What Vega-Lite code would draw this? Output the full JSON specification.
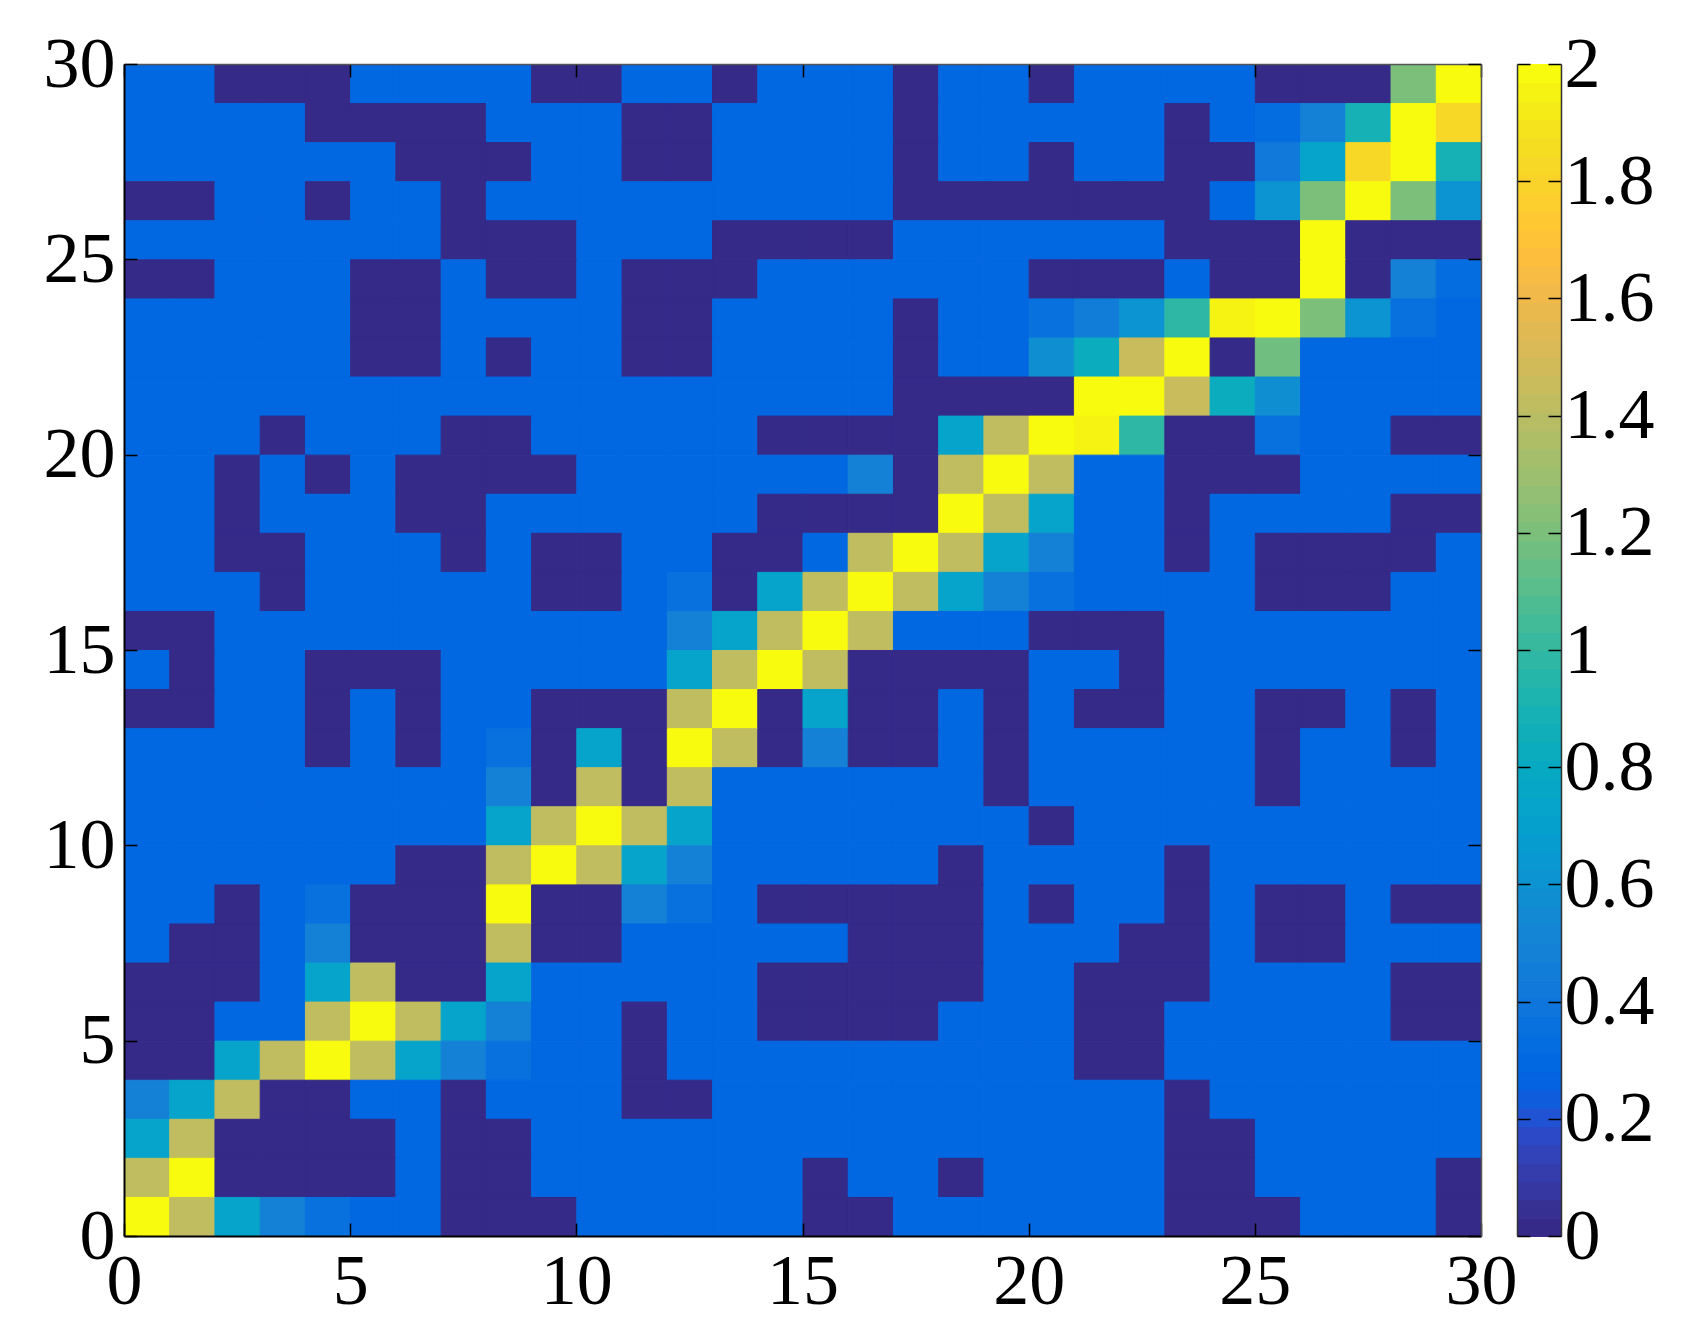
{"$schema":"https://vega.github.io/schema/vega-lite/v6.json","background":"white","padding":{"left":43,"top":28,"right":10,"bottom":10},"config":{"view":{"stroke":null},"font":"Liberation Serif"},"datasets":{"cells":[
{"x":0,"y":29,"v":0.29},{"x":1,"y":29,"v":0.29},{"x":2,"y":29,"v":0},{"x":3,"y":29,"v":0},{"x":4,"y":29,"v":0},{"x":5,"y":29,"v":0.29},{"x":6,"y":29,"v":0.29},{"x":7,"y":29,"v":0.29},{"x":8,"y":29,"v":0.29},{"x":9,"y":29,"v":0},{"x":10,"y":29,"v":0},{"x":11,"y":29,"v":0.29},{"x":12,"y":29,"v":0.29},{"x":13,"y":29,"v":0},{"x":14,"y":29,"v":0.29},{"x":15,"y":29,"v":0.29},{"x":16,"y":29,"v":0.29},{"x":17,"y":29,"v":0},{"x":18,"y":29,"v":0.29},{"x":19,"y":29,"v":0.29},{"x":20,"y":29,"v":0},{"x":21,"y":29,"v":0.29},{"x":22,"y":29,"v":0.29},{"x":23,"y":29,"v":0.29},{"x":24,"y":29,"v":0.29},{"x":25,"y":29,"v":0},{"x":26,"y":29,"v":0},{"x":27,"y":29,"v":0},{"x":28,"y":29,"v":1.2},{"x":29,"y":29,"v":2},
{"x":0,"y":28,"v":0.29},{"x":1,"y":28,"v":0.29},{"x":2,"y":28,"v":0.29},{"x":3,"y":28,"v":0.29},{"x":4,"y":28,"v":0},{"x":5,"y":28,"v":0},{"x":6,"y":28,"v":0},{"x":7,"y":28,"v":0},{"x":8,"y":28,"v":0.29},{"x":9,"y":28,"v":0.29},{"x":10,"y":28,"v":0.29},{"x":11,"y":28,"v":0},{"x":12,"y":28,"v":0},{"x":13,"y":28,"v":0.29},{"x":14,"y":28,"v":0.29},{"x":15,"y":28,"v":0.29},{"x":16,"y":28,"v":0.29},{"x":17,"y":28,"v":0},{"x":18,"y":28,"v":0.29},{"x":19,"y":28,"v":0.29},{"x":20,"y":28,"v":0.29},{"x":21,"y":28,"v":0.29},{"x":22,"y":28,"v":0.29},{"x":23,"y":28,"v":0},{"x":24,"y":28,"v":0.29},{"x":25,"y":28,"v":0.34},{"x":26,"y":28,"v":0.47},{"x":27,"y":28,"v":0.89},{"x":28,"y":28,"v":2},{"x":29,"y":28,"v":1.82},
{"x":0,"y":27,"v":0.29},{"x":1,"y":27,"v":0.29},{"x":2,"y":27,"v":0.29},{"x":3,"y":27,"v":0.29},{"x":4,"y":27,"v":0.29},{"x":5,"y":27,"v":0.29},{"x":6,"y":27,"v":0},{"x":7,"y":27,"v":0},{"x":8,"y":27,"v":0},{"x":9,"y":27,"v":0.29},{"x":10,"y":27,"v":0.29},{"x":11,"y":27,"v":0},{"x":12,"y":27,"v":0},{"x":13,"y":27,"v":0.29},{"x":14,"y":27,"v":0.29},{"x":15,"y":27,"v":0.29},{"x":16,"y":27,"v":0.29},{"x":17,"y":27,"v":0},{"x":18,"y":27,"v":0.29},{"x":19,"y":27,"v":0.29},{"x":20,"y":27,"v":0},{"x":21,"y":27,"v":0.29},{"x":22,"y":27,"v":0.29},{"x":23,"y":27,"v":0},{"x":24,"y":27,"v":0},{"x":25,"y":27,"v":0.43},{"x":26,"y":27,"v":0.72},{"x":27,"y":27,"v":1.82},{"x":28,"y":27,"v":2},{"x":29,"y":27,"v":0.89},
{"x":0,"y":26,"v":0},{"x":1,"y":26,"v":0},{"x":2,"y":26,"v":0.29},{"x":3,"y":26,"v":0.29},{"x":4,"y":26,"v":0},{"x":5,"y":26,"v":0.29},{"x":6,"y":26,"v":0.29},{"x":7,"y":26,"v":0},{"x":8,"y":26,"v":0.29},{"x":9,"y":26,"v":0.29},{"x":10,"y":26,"v":0.29},{"x":11,"y":26,"v":0.29},{"x":12,"y":26,"v":0.29},{"x":13,"y":26,"v":0.29},{"x":14,"y":26,"v":0.29},{"x":15,"y":26,"v":0.29},{"x":16,"y":26,"v":0.29},{"x":17,"y":26,"v":0},{"x":18,"y":26,"v":0},{"x":19,"y":26,"v":0},{"x":20,"y":26,"v":0},{"x":21,"y":26,"v":0},{"x":22,"y":26,"v":0},{"x":23,"y":26,"v":0},{"x":24,"y":26,"v":0.29},{"x":25,"y":26,"v":0.6},{"x":26,"y":26,"v":1.2},{"x":27,"y":26,"v":2},{"x":28,"y":26,"v":1.2},{"x":29,"y":26,"v":0.6},
{"x":0,"y":25,"v":0.29},{"x":1,"y":25,"v":0.29},{"x":2,"y":25,"v":0.29},{"x":3,"y":25,"v":0.29},{"x":4,"y":25,"v":0.29},{"x":5,"y":25,"v":0.29},{"x":6,"y":25,"v":0.29},{"x":7,"y":25,"v":0},{"x":8,"y":25,"v":0},{"x":9,"y":25,"v":0},{"x":10,"y":25,"v":0.29},{"x":11,"y":25,"v":0.29},{"x":12,"y":25,"v":0.29},{"x":13,"y":25,"v":0},{"x":14,"y":25,"v":0},{"x":15,"y":25,"v":0},{"x":16,"y":25,"v":0},{"x":17,"y":25,"v":0.29},{"x":18,"y":25,"v":0.29},{"x":19,"y":25,"v":0.29},{"x":20,"y":25,"v":0.29},{"x":21,"y":25,"v":0.29},{"x":22,"y":25,"v":0.29},{"x":23,"y":25,"v":0},{"x":24,"y":25,"v":0},{"x":25,"y":25,"v":0},{"x":26,"y":25,"v":2},{"x":27,"y":25,"v":0},{"x":28,"y":25,"v":0},{"x":29,"y":25,"v":0},
{"x":0,"y":24,"v":0},{"x":1,"y":24,"v":0},{"x":2,"y":24,"v":0.29},{"x":3,"y":24,"v":0.29},{"x":4,"y":24,"v":0.29},{"x":5,"y":24,"v":0},{"x":6,"y":24,"v":0},{"x":7,"y":24,"v":0.29},{"x":8,"y":24,"v":0},{"x":9,"y":24,"v":0},{"x":10,"y":24,"v":0.29},{"x":11,"y":24,"v":0},{"x":12,"y":24,"v":0},{"x":13,"y":24,"v":0},{"x":14,"y":24,"v":0.29},{"x":15,"y":24,"v":0.29},{"x":16,"y":24,"v":0.29},{"x":17,"y":24,"v":0.29},{"x":18,"y":24,"v":0.29},{"x":19,"y":24,"v":0.29},{"x":20,"y":24,"v":0},{"x":21,"y":24,"v":0},{"x":22,"y":24,"v":0},{"x":23,"y":24,"v":0.29},{"x":24,"y":24,"v":0},{"x":25,"y":24,"v":0},{"x":26,"y":24,"v":2},{"x":27,"y":24,"v":0},{"x":28,"y":24,"v":0.47},{"x":29,"y":24,"v":0.34},
{"x":0,"y":23,"v":0.29},{"x":1,"y":23,"v":0.29},{"x":2,"y":23,"v":0.29},{"x":3,"y":23,"v":0.29},{"x":4,"y":23,"v":0.29},{"x":5,"y":23,"v":0},{"x":6,"y":23,"v":0},{"x":7,"y":23,"v":0.29},{"x":8,"y":23,"v":0.29},{"x":9,"y":23,"v":0.29},{"x":10,"y":23,"v":0.29},{"x":11,"y":23,"v":0},{"x":12,"y":23,"v":0},{"x":13,"y":23,"v":0.29},{"x":14,"y":23,"v":0.29},{"x":15,"y":23,"v":0.29},{"x":16,"y":23,"v":0.29},{"x":17,"y":23,"v":0},{"x":18,"y":23,"v":0.29},{"x":19,"y":23,"v":0.29},{"x":20,"y":23,"v":0.36},{"x":21,"y":23,"v":0.44},{"x":22,"y":23,"v":0.62},{"x":23,"y":23,"v":0.98},{"x":24,"y":23,"v":1.95},{"x":25,"y":23,"v":2},{"x":26,"y":23,"v":1.2},{"x":27,"y":23,"v":0.62},{"x":28,"y":23,"v":0.36},{"x":29,"y":23,"v":0.29},
{"x":0,"y":22,"v":0.29},{"x":1,"y":22,"v":0.29},{"x":2,"y":22,"v":0.29},{"x":3,"y":22,"v":0.29},{"x":4,"y":22,"v":0.29},{"x":5,"y":22,"v":0},{"x":6,"y":22,"v":0},{"x":7,"y":22,"v":0.29},{"x":8,"y":22,"v":0},{"x":9,"y":22,"v":0.29},{"x":10,"y":22,"v":0.29},{"x":11,"y":22,"v":0},{"x":12,"y":22,"v":0},{"x":13,"y":22,"v":0.29},{"x":14,"y":22,"v":0.29},{"x":15,"y":22,"v":0.29},{"x":16,"y":22,"v":0.29},{"x":17,"y":22,"v":0},{"x":18,"y":22,"v":0.29},{"x":19,"y":22,"v":0.29},{"x":20,"y":22,"v":0.58},{"x":21,"y":22,"v":0.82},{"x":22,"y":22,"v":1.45},{"x":23,"y":22,"v":2},{"x":24,"y":22,"v":0},{"x":25,"y":22,"v":1.17},{"x":26,"y":22,"v":0.29},{"x":27,"y":22,"v":0.29},{"x":28,"y":22,"v":0.29},{"x":29,"y":22,"v":0.29},
{"x":0,"y":21,"v":0.29},{"x":1,"y":21,"v":0.29},{"x":2,"y":21,"v":0.29},{"x":3,"y":21,"v":0.29},{"x":4,"y":21,"v":0.29},{"x":5,"y":21,"v":0.29},{"x":6,"y":21,"v":0.29},{"x":7,"y":21,"v":0.29},{"x":8,"y":21,"v":0.29},{"x":9,"y":21,"v":0.29},{"x":10,"y":21,"v":0.29},{"x":11,"y":21,"v":0.29},{"x":12,"y":21,"v":0.29},{"x":13,"y":21,"v":0.29},{"x":14,"y":21,"v":0.29},{"x":15,"y":21,"v":0.29},{"x":16,"y":21,"v":0.29},{"x":17,"y":21,"v":0},{"x":18,"y":21,"v":0},{"x":19,"y":21,"v":0},{"x":20,"y":21,"v":0},{"x":21,"y":21,"v":2},{"x":22,"y":21,"v":2},{"x":23,"y":21,"v":1.45},{"x":24,"y":21,"v":0.82},{"x":25,"y":21,"v":0.58},{"x":26,"y":21,"v":0.29},{"x":27,"y":21,"v":0.29},{"x":28,"y":21,"v":0.29},{"x":29,"y":21,"v":0.29},
{"x":0,"y":20,"v":0.29},{"x":1,"y":20,"v":0.29},{"x":2,"y":20,"v":0.29},{"x":3,"y":20,"v":0},{"x":4,"y":20,"v":0.29},{"x":5,"y":20,"v":0.29},{"x":6,"y":20,"v":0.29},{"x":7,"y":20,"v":0},{"x":8,"y":20,"v":0},{"x":9,"y":20,"v":0.29},{"x":10,"y":20,"v":0.29},{"x":11,"y":20,"v":0.29},{"x":12,"y":20,"v":0.29},{"x":13,"y":20,"v":0.29},{"x":14,"y":20,"v":0},{"x":15,"y":20,"v":0},{"x":16,"y":20,"v":0},{"x":17,"y":20,"v":0},{"x":18,"y":20,"v":0.72},{"x":19,"y":20,"v":1.42},{"x":20,"y":20,"v":2},{"x":21,"y":20,"v":1.95},{"x":22,"y":20,"v":0.98},{"x":23,"y":20,"v":0},{"x":24,"y":20,"v":0},{"x":25,"y":20,"v":0.36},{"x":26,"y":20,"v":0.29},{"x":27,"y":20,"v":0.29},{"x":28,"y":20,"v":0},{"x":29,"y":20,"v":0},
{"x":0,"y":19,"v":0.29},{"x":1,"y":19,"v":0.29},{"x":2,"y":19,"v":0},{"x":3,"y":19,"v":0.29},{"x":4,"y":19,"v":0},{"x":5,"y":19,"v":0.29},{"x":6,"y":19,"v":0},{"x":7,"y":19,"v":0},{"x":8,"y":19,"v":0},{"x":9,"y":19,"v":0},{"x":10,"y":19,"v":0.29},{"x":11,"y":19,"v":0.29},{"x":12,"y":19,"v":0.29},{"x":13,"y":19,"v":0.29},{"x":14,"y":19,"v":0.29},{"x":15,"y":19,"v":0.29},{"x":16,"y":19,"v":0.47},{"x":17,"y":19,"v":0},{"x":18,"y":19,"v":1.42},{"x":19,"y":19,"v":2},{"x":20,"y":19,"v":1.42},{"x":21,"y":19,"v":0.29},{"x":22,"y":19,"v":0.29},{"x":23,"y":19,"v":0},{"x":24,"y":19,"v":0},{"x":25,"y":19,"v":0},{"x":26,"y":19,"v":0.29},{"x":27,"y":19,"v":0.29},{"x":28,"y":19,"v":0.29},{"x":29,"y":19,"v":0.29},
{"x":0,"y":18,"v":0.29},{"x":1,"y":18,"v":0.29},{"x":2,"y":18,"v":0},{"x":3,"y":18,"v":0.29},{"x":4,"y":18,"v":0.29},{"x":5,"y":18,"v":0.29},{"x":6,"y":18,"v":0},{"x":7,"y":18,"v":0},{"x":8,"y":18,"v":0.29},{"x":9,"y":18,"v":0.29},{"x":10,"y":18,"v":0.29},{"x":11,"y":18,"v":0.29},{"x":12,"y":18,"v":0.29},{"x":13,"y":18,"v":0.29},{"x":14,"y":18,"v":0},{"x":15,"y":18,"v":0},{"x":16,"y":18,"v":0},{"x":17,"y":18,"v":0},{"x":18,"y":18,"v":2},{"x":19,"y":18,"v":1.42},{"x":20,"y":18,"v":0.72},{"x":21,"y":18,"v":0.29},{"x":22,"y":18,"v":0.29},{"x":23,"y":18,"v":0},{"x":24,"y":18,"v":0.29},{"x":25,"y":18,"v":0.29},{"x":26,"y":18,"v":0.29},{"x":27,"y":18,"v":0.29},{"x":28,"y":18,"v":0},{"x":29,"y":18,"v":0},
{"x":0,"y":17,"v":0.29},{"x":1,"y":17,"v":0.29},{"x":2,"y":17,"v":0},{"x":3,"y":17,"v":0},{"x":4,"y":17,"v":0.29},{"x":5,"y":17,"v":0.29},{"x":6,"y":17,"v":0.29},{"x":7,"y":17,"v":0},{"x":8,"y":17,"v":0.29},{"x":9,"y":17,"v":0},{"x":10,"y":17,"v":0},{"x":11,"y":17,"v":0.29},{"x":12,"y":17,"v":0.29},{"x":13,"y":17,"v":0},{"x":14,"y":17,"v":0},{"x":15,"y":17,"v":0.29},{"x":16,"y":17,"v":1.42},{"x":17,"y":17,"v":2},{"x":18,"y":17,"v":1.42},{"x":19,"y":17,"v":0.72},{"x":20,"y":17,"v":0.47},{"x":21,"y":17,"v":0.29},{"x":22,"y":17,"v":0.29},{"x":23,"y":17,"v":0},{"x":24,"y":17,"v":0.29},{"x":25,"y":17,"v":0},{"x":26,"y":17,"v":0},{"x":27,"y":17,"v":0},{"x":28,"y":17,"v":0},{"x":29,"y":17,"v":0.29},
{"x":0,"y":16,"v":0.29},{"x":1,"y":16,"v":0.29},{"x":2,"y":16,"v":0.29},{"x":3,"y":16,"v":0},{"x":4,"y":16,"v":0.29},{"x":5,"y":16,"v":0.29},{"x":6,"y":16,"v":0.29},{"x":7,"y":16,"v":0.29},{"x":8,"y":16,"v":0.29},{"x":9,"y":16,"v":0},{"x":10,"y":16,"v":0},{"x":11,"y":16,"v":0.29},{"x":12,"y":16,"v":0.36},{"x":13,"y":16,"v":0},{"x":14,"y":16,"v":0.72},{"x":15,"y":16,"v":1.42},{"x":16,"y":16,"v":2},{"x":17,"y":16,"v":1.42},{"x":18,"y":16,"v":0.72},{"x":19,"y":16,"v":0.47},{"x":20,"y":16,"v":0.36},{"x":21,"y":16,"v":0.29},{"x":22,"y":16,"v":0.29},{"x":23,"y":16,"v":0.29},{"x":24,"y":16,"v":0.29},{"x":25,"y":16,"v":0},{"x":26,"y":16,"v":0},{"x":27,"y":16,"v":0},{"x":28,"y":16,"v":0.29},{"x":29,"y":16,"v":0.29},
{"x":0,"y":15,"v":0},{"x":1,"y":15,"v":0},{"x":2,"y":15,"v":0.29},{"x":3,"y":15,"v":0.29},{"x":4,"y":15,"v":0.29},{"x":5,"y":15,"v":0.29},{"x":6,"y":15,"v":0.29},{"x":7,"y":15,"v":0.29},{"x":8,"y":15,"v":0.29},{"x":9,"y":15,"v":0.29},{"x":10,"y":15,"v":0.29},{"x":11,"y":15,"v":0.29},{"x":12,"y":15,"v":0.47},{"x":13,"y":15,"v":0.72},{"x":14,"y":15,"v":1.42},{"x":15,"y":15,"v":2},{"x":16,"y":15,"v":1.42},{"x":17,"y":15,"v":0.29},{"x":18,"y":15,"v":0.29},{"x":19,"y":15,"v":0.29},{"x":20,"y":15,"v":0},{"x":21,"y":15,"v":0},{"x":22,"y":15,"v":0},{"x":23,"y":15,"v":0.29},{"x":24,"y":15,"v":0.29},{"x":25,"y":15,"v":0.29},{"x":26,"y":15,"v":0.29},{"x":27,"y":15,"v":0.29},{"x":28,"y":15,"v":0.29},{"x":29,"y":15,"v":0.29},
{"x":0,"y":14,"v":0.29},{"x":1,"y":14,"v":0},{"x":2,"y":14,"v":0.29},{"x":3,"y":14,"v":0.29},{"x":4,"y":14,"v":0},{"x":5,"y":14,"v":0},{"x":6,"y":14,"v":0},{"x":7,"y":14,"v":0.29},{"x":8,"y":14,"v":0.29},{"x":9,"y":14,"v":0.29},{"x":10,"y":14,"v":0.29},{"x":11,"y":14,"v":0.29},{"x":12,"y":14,"v":0.72},{"x":13,"y":14,"v":1.42},{"x":14,"y":14,"v":2},{"x":15,"y":14,"v":1.42},{"x":16,"y":14,"v":0},{"x":17,"y":14,"v":0},{"x":18,"y":14,"v":0},{"x":19,"y":14,"v":0},{"x":20,"y":14,"v":0.29},{"x":21,"y":14,"v":0.29},{"x":22,"y":14,"v":0},{"x":23,"y":14,"v":0.29},{"x":24,"y":14,"v":0.29},{"x":25,"y":14,"v":0.29},{"x":26,"y":14,"v":0.29},{"x":27,"y":14,"v":0.29},{"x":28,"y":14,"v":0.29},{"x":29,"y":14,"v":0.29},
{"x":0,"y":13,"v":0},{"x":1,"y":13,"v":0},{"x":2,"y":13,"v":0.29},{"x":3,"y":13,"v":0.29},{"x":4,"y":13,"v":0},{"x":5,"y":13,"v":0.29},{"x":6,"y":13,"v":0},{"x":7,"y":13,"v":0.29},{"x":8,"y":13,"v":0.29},{"x":9,"y":13,"v":0},{"x":10,"y":13,"v":0},{"x":11,"y":13,"v":0},{"x":12,"y":13,"v":1.42},{"x":13,"y":13,"v":2},{"x":14,"y":13,"v":0},{"x":15,"y":13,"v":0.72},{"x":16,"y":13,"v":0},{"x":17,"y":13,"v":0},{"x":18,"y":13,"v":0.29},{"x":19,"y":13,"v":0},{"x":20,"y":13,"v":0.29},{"x":21,"y":13,"v":0},{"x":22,"y":13,"v":0},{"x":23,"y":13,"v":0.29},{"x":24,"y":13,"v":0.29},{"x":25,"y":13,"v":0},{"x":26,"y":13,"v":0},{"x":27,"y":13,"v":0.29},{"x":28,"y":13,"v":0},{"x":29,"y":13,"v":0.29},
{"x":0,"y":12,"v":0.29},{"x":1,"y":12,"v":0.29},{"x":2,"y":12,"v":0.29},{"x":3,"y":12,"v":0.29},{"x":4,"y":12,"v":0},{"x":5,"y":12,"v":0.29},{"x":6,"y":12,"v":0},{"x":7,"y":12,"v":0.29},{"x":8,"y":12,"v":0.36},{"x":9,"y":12,"v":0},{"x":10,"y":12,"v":0.72},{"x":11,"y":12,"v":0},{"x":12,"y":12,"v":2},{"x":13,"y":12,"v":1.42},{"x":14,"y":12,"v":0},{"x":15,"y":12,"v":0.47},{"x":16,"y":12,"v":0},{"x":17,"y":12,"v":0},{"x":18,"y":12,"v":0.29},{"x":19,"y":12,"v":0},{"x":20,"y":12,"v":0.29},{"x":21,"y":12,"v":0.29},{"x":22,"y":12,"v":0.29},{"x":23,"y":12,"v":0.29},{"x":24,"y":12,"v":0.29},{"x":25,"y":12,"v":0},{"x":26,"y":12,"v":0.29},{"x":27,"y":12,"v":0.29},{"x":28,"y":12,"v":0},{"x":29,"y":12,"v":0.29},
{"x":0,"y":11,"v":0.29},{"x":1,"y":11,"v":0.29},{"x":2,"y":11,"v":0.29},{"x":3,"y":11,"v":0.29},{"x":4,"y":11,"v":0.29},{"x":5,"y":11,"v":0.29},{"x":6,"y":11,"v":0.29},{"x":7,"y":11,"v":0.29},{"x":8,"y":11,"v":0.47},{"x":9,"y":11,"v":0},{"x":10,"y":11,"v":1.42},{"x":11,"y":11,"v":0},{"x":12,"y":11,"v":1.42},{"x":13,"y":11,"v":0.29},{"x":14,"y":11,"v":0.29},{"x":15,"y":11,"v":0.29},{"x":16,"y":11,"v":0.29},{"x":17,"y":11,"v":0.29},{"x":18,"y":11,"v":0.29},{"x":19,"y":11,"v":0},{"x":20,"y":11,"v":0.29},{"x":21,"y":11,"v":0.29},{"x":22,"y":11,"v":0.29},{"x":23,"y":11,"v":0.29},{"x":24,"y":11,"v":0.29},{"x":25,"y":11,"v":0},{"x":26,"y":11,"v":0.29},{"x":27,"y":11,"v":0.29},{"x":28,"y":11,"v":0.29},{"x":29,"y":11,"v":0.29},
{"x":0,"y":10,"v":0.29},{"x":1,"y":10,"v":0.29},{"x":2,"y":10,"v":0.29},{"x":3,"y":10,"v":0.29},{"x":4,"y":10,"v":0.29},{"x":5,"y":10,"v":0.29},{"x":6,"y":10,"v":0.29},{"x":7,"y":10,"v":0.29},{"x":8,"y":10,"v":0.72},{"x":9,"y":10,"v":1.42},{"x":10,"y":10,"v":2},{"x":11,"y":10,"v":1.42},{"x":12,"y":10,"v":0.72},{"x":13,"y":10,"v":0.29},{"x":14,"y":10,"v":0.29},{"x":15,"y":10,"v":0.29},{"x":16,"y":10,"v":0.29},{"x":17,"y":10,"v":0.29},{"x":18,"y":10,"v":0.29},{"x":19,"y":10,"v":0.29},{"x":20,"y":10,"v":0},{"x":21,"y":10,"v":0.29},{"x":22,"y":10,"v":0.29},{"x":23,"y":10,"v":0.29},{"x":24,"y":10,"v":0.29},{"x":25,"y":10,"v":0.29},{"x":26,"y":10,"v":0.29},{"x":27,"y":10,"v":0.29},{"x":28,"y":10,"v":0.29},{"x":29,"y":10,"v":0.29},
{"x":0,"y":9,"v":0.29},{"x":1,"y":9,"v":0.29},{"x":2,"y":9,"v":0.29},{"x":3,"y":9,"v":0.29},{"x":4,"y":9,"v":0.29},{"x":5,"y":9,"v":0.29},{"x":6,"y":9,"v":0},{"x":7,"y":9,"v":0},{"x":8,"y":9,"v":1.42},{"x":9,"y":9,"v":2},{"x":10,"y":9,"v":1.42},{"x":11,"y":9,"v":0.72},{"x":12,"y":9,"v":0.47},{"x":13,"y":9,"v":0.29},{"x":14,"y":9,"v":0.29},{"x":15,"y":9,"v":0.29},{"x":16,"y":9,"v":0.29},{"x":17,"y":9,"v":0.29},{"x":18,"y":9,"v":0},{"x":19,"y":9,"v":0.29},{"x":20,"y":9,"v":0.29},{"x":21,"y":9,"v":0.29},{"x":22,"y":9,"v":0.29},{"x":23,"y":9,"v":0},{"x":24,"y":9,"v":0.29},{"x":25,"y":9,"v":0.29},{"x":26,"y":9,"v":0.29},{"x":27,"y":9,"v":0.29},{"x":28,"y":9,"v":0.29},{"x":29,"y":9,"v":0.29},
{"x":0,"y":8,"v":0.29},{"x":1,"y":8,"v":0.29},{"x":2,"y":8,"v":0},{"x":3,"y":8,"v":0.29},{"x":4,"y":8,"v":0.36},{"x":5,"y":8,"v":0},{"x":6,"y":8,"v":0},{"x":7,"y":8,"v":0},{"x":8,"y":8,"v":2},{"x":9,"y":8,"v":0},{"x":10,"y":8,"v":0},{"x":11,"y":8,"v":0.47},{"x":12,"y":8,"v":0.36},{"x":13,"y":8,"v":0.29},{"x":14,"y":8,"v":0},{"x":15,"y":8,"v":0},{"x":16,"y":8,"v":0},{"x":17,"y":8,"v":0},{"x":18,"y":8,"v":0},{"x":19,"y":8,"v":0.29},{"x":20,"y":8,"v":0},{"x":21,"y":8,"v":0.29},{"x":22,"y":8,"v":0.29},{"x":23,"y":8,"v":0},{"x":24,"y":8,"v":0.29},{"x":25,"y":8,"v":0},{"x":26,"y":8,"v":0},{"x":27,"y":8,"v":0.29},{"x":28,"y":8,"v":0},{"x":29,"y":8,"v":0},
{"x":0,"y":7,"v":0.29},{"x":1,"y":7,"v":0},{"x":2,"y":7,"v":0},{"x":3,"y":7,"v":0.29},{"x":4,"y":7,"v":0.47},{"x":5,"y":7,"v":0},{"x":6,"y":7,"v":0},{"x":7,"y":7,"v":0},{"x":8,"y":7,"v":1.42},{"x":9,"y":7,"v":0},{"x":10,"y":7,"v":0},{"x":11,"y":7,"v":0.29},{"x":12,"y":7,"v":0.29},{"x":13,"y":7,"v":0.29},{"x":14,"y":7,"v":0.29},{"x":15,"y":7,"v":0.29},{"x":16,"y":7,"v":0},{"x":17,"y":7,"v":0},{"x":18,"y":7,"v":0},{"x":19,"y":7,"v":0.29},{"x":20,"y":7,"v":0.29},{"x":21,"y":7,"v":0.29},{"x":22,"y":7,"v":0},{"x":23,"y":7,"v":0},{"x":24,"y":7,"v":0.29},{"x":25,"y":7,"v":0},{"x":26,"y":7,"v":0},{"x":27,"y":7,"v":0.29},{"x":28,"y":7,"v":0.29},{"x":29,"y":7,"v":0.29},
{"x":0,"y":6,"v":0},{"x":1,"y":6,"v":0},{"x":2,"y":6,"v":0},{"x":3,"y":6,"v":0.29},{"x":4,"y":6,"v":0.72},{"x":5,"y":6,"v":1.42},{"x":6,"y":6,"v":0},{"x":7,"y":6,"v":0},{"x":8,"y":6,"v":0.72},{"x":9,"y":6,"v":0.29},{"x":10,"y":6,"v":0.29},{"x":11,"y":6,"v":0.29},{"x":12,"y":6,"v":0.29},{"x":13,"y":6,"v":0.29},{"x":14,"y":6,"v":0},{"x":15,"y":6,"v":0},{"x":16,"y":6,"v":0},{"x":17,"y":6,"v":0},{"x":18,"y":6,"v":0},{"x":19,"y":6,"v":0.29},{"x":20,"y":6,"v":0.29},{"x":21,"y":6,"v":0},{"x":22,"y":6,"v":0},{"x":23,"y":6,"v":0},{"x":24,"y":6,"v":0.29},{"x":25,"y":6,"v":0.29},{"x":26,"y":6,"v":0.29},{"x":27,"y":6,"v":0.29},{"x":28,"y":6,"v":0},{"x":29,"y":6,"v":0},
{"x":0,"y":5,"v":0},{"x":1,"y":5,"v":0},{"x":2,"y":5,"v":0.29},{"x":3,"y":5,"v":0.29},{"x":4,"y":5,"v":1.42},{"x":5,"y":5,"v":2},{"x":6,"y":5,"v":1.42},{"x":7,"y":5,"v":0.72},{"x":8,"y":5,"v":0.47},{"x":9,"y":5,"v":0.29},{"x":10,"y":5,"v":0.29},{"x":11,"y":5,"v":0},{"x":12,"y":5,"v":0.29},{"x":13,"y":5,"v":0.29},{"x":14,"y":5,"v":0},{"x":15,"y":5,"v":0},{"x":16,"y":5,"v":0},{"x":17,"y":5,"v":0},{"x":18,"y":5,"v":0.29},{"x":19,"y":5,"v":0.29},{"x":20,"y":5,"v":0.29},{"x":21,"y":5,"v":0},{"x":22,"y":5,"v":0},{"x":23,"y":5,"v":0.29},{"x":24,"y":5,"v":0.29},{"x":25,"y":5,"v":0.29},{"x":26,"y":5,"v":0.29},{"x":27,"y":5,"v":0.29},{"x":28,"y":5,"v":0},{"x":29,"y":5,"v":0},
{"x":0,"y":4,"v":0},{"x":1,"y":4,"v":0},{"x":2,"y":4,"v":0.72},{"x":3,"y":4,"v":1.42},{"x":4,"y":4,"v":2},{"x":5,"y":4,"v":1.42},{"x":6,"y":4,"v":0.72},{"x":7,"y":4,"v":0.47},{"x":8,"y":4,"v":0.36},{"x":9,"y":4,"v":0.29},{"x":10,"y":4,"v":0.29},{"x":11,"y":4,"v":0},{"x":12,"y":4,"v":0.29},{"x":13,"y":4,"v":0.29},{"x":14,"y":4,"v":0.29},{"x":15,"y":4,"v":0.29},{"x":16,"y":4,"v":0.29},{"x":17,"y":4,"v":0.29},{"x":18,"y":4,"v":0.29},{"x":19,"y":4,"v":0.29},{"x":20,"y":4,"v":0.29},{"x":21,"y":4,"v":0},{"x":22,"y":4,"v":0},{"x":23,"y":4,"v":0.29},{"x":24,"y":4,"v":0.29},{"x":25,"y":4,"v":0.29},{"x":26,"y":4,"v":0.29},{"x":27,"y":4,"v":0.29},{"x":28,"y":4,"v":0.29},{"x":29,"y":4,"v":0.29},
{"x":0,"y":3,"v":0.47},{"x":1,"y":3,"v":0.72},{"x":2,"y":3,"v":1.42},{"x":3,"y":3,"v":0},{"x":4,"y":3,"v":0},{"x":5,"y":3,"v":0.29},{"x":6,"y":3,"v":0.29},{"x":7,"y":3,"v":0},{"x":8,"y":3,"v":0.29},{"x":9,"y":3,"v":0.29},{"x":10,"y":3,"v":0.29},{"x":11,"y":3,"v":0},{"x":12,"y":3,"v":0},{"x":13,"y":3,"v":0.29},{"x":14,"y":3,"v":0.29},{"x":15,"y":3,"v":0.29},{"x":16,"y":3,"v":0.29},{"x":17,"y":3,"v":0.29},{"x":18,"y":3,"v":0.29},{"x":19,"y":3,"v":0.29},{"x":20,"y":3,"v":0.29},{"x":21,"y":3,"v":0.29},{"x":22,"y":3,"v":0.29},{"x":23,"y":3,"v":0},{"x":24,"y":3,"v":0.29},{"x":25,"y":3,"v":0.29},{"x":26,"y":3,"v":0.29},{"x":27,"y":3,"v":0.29},{"x":28,"y":3,"v":0.29},{"x":29,"y":3,"v":0.29},
{"x":0,"y":2,"v":0.72},{"x":1,"y":2,"v":1.42},{"x":2,"y":2,"v":0},{"x":3,"y":2,"v":0},{"x":4,"y":2,"v":0},{"x":5,"y":2,"v":0},{"x":6,"y":2,"v":0.29},{"x":7,"y":2,"v":0},{"x":8,"y":2,"v":0},{"x":9,"y":2,"v":0.29},{"x":10,"y":2,"v":0.29},{"x":11,"y":2,"v":0.29},{"x":12,"y":2,"v":0.29},{"x":13,"y":2,"v":0.29},{"x":14,"y":2,"v":0.29},{"x":15,"y":2,"v":0.29},{"x":16,"y":2,"v":0.29},{"x":17,"y":2,"v":0.29},{"x":18,"y":2,"v":0.29},{"x":19,"y":2,"v":0.29},{"x":20,"y":2,"v":0.29},{"x":21,"y":2,"v":0.29},{"x":22,"y":2,"v":0.29},{"x":23,"y":2,"v":0},{"x":24,"y":2,"v":0},{"x":25,"y":2,"v":0.29},{"x":26,"y":2,"v":0.29},{"x":27,"y":2,"v":0.29},{"x":28,"y":2,"v":0.29},{"x":29,"y":2,"v":0.29},
{"x":0,"y":1,"v":1.42},{"x":1,"y":1,"v":2},{"x":2,"y":1,"v":0},{"x":3,"y":1,"v":0},{"x":4,"y":1,"v":0},{"x":5,"y":1,"v":0},{"x":6,"y":1,"v":0.29},{"x":7,"y":1,"v":0},{"x":8,"y":1,"v":0},{"x":9,"y":1,"v":0.29},{"x":10,"y":1,"v":0.29},{"x":11,"y":1,"v":0.29},{"x":12,"y":1,"v":0.29},{"x":13,"y":1,"v":0.29},{"x":14,"y":1,"v":0.29},{"x":15,"y":1,"v":0},{"x":16,"y":1,"v":0.29},{"x":17,"y":1,"v":0.29},{"x":18,"y":1,"v":0},{"x":19,"y":1,"v":0.29},{"x":20,"y":1,"v":0.29},{"x":21,"y":1,"v":0.29},{"x":22,"y":1,"v":0.29},{"x":23,"y":1,"v":0},{"x":24,"y":1,"v":0},{"x":25,"y":1,"v":0.29},{"x":26,"y":1,"v":0.29},{"x":27,"y":1,"v":0.29},{"x":28,"y":1,"v":0.29},{"x":29,"y":1,"v":0},
{"x":0,"y":0,"v":2},{"x":1,"y":0,"v":1.42},{"x":2,"y":0,"v":0.72},{"x":3,"y":0,"v":0.47},{"x":4,"y":0,"v":0.36},{"x":5,"y":0,"v":0.29},{"x":6,"y":0,"v":0.29},{"x":7,"y":0,"v":0},{"x":8,"y":0,"v":0},{"x":9,"y":0,"v":0},{"x":10,"y":0,"v":0.29},{"x":11,"y":0,"v":0.29},{"x":12,"y":0,"v":0.29},{"x":13,"y":0,"v":0.29},{"x":14,"y":0,"v":0.29},{"x":15,"y":0,"v":0},{"x":16,"y":0,"v":0},{"x":17,"y":0,"v":0.29},{"x":18,"y":0,"v":0.29},{"x":19,"y":0,"v":0.29},{"x":20,"y":0,"v":0.29},{"x":21,"y":0,"v":0.29},{"x":22,"y":0,"v":0.29},{"x":23,"y":0,"v":0},{"x":24,"y":0,"v":0},{"x":25,"y":0,"v":0},{"x":26,"y":0,"v":0.29},{"x":27,"y":0,"v":0.29},{"x":28,"y":0,"v":0.29},{"x":29,"y":0,"v":0}
],"levels":[{"u":0,"v":0.015625},{"u":0,"v":0.046875},{"u":0,"v":0.078125},{"u":0,"v":0.109375},{"u":0,"v":0.140625},{"u":0,"v":0.171875},{"u":0,"v":0.203125},{"u":0,"v":0.234375},{"u":0,"v":0.265625},{"u":0,"v":0.296875},{"u":0,"v":0.328125},{"u":0,"v":0.359375},{"u":0,"v":0.390625},{"u":0,"v":0.421875},{"u":0,"v":0.453125},{"u":0,"v":0.484375},{"u":0,"v":0.515625},{"u":0,"v":0.546875},{"u":0,"v":0.578125},{"u":0,"v":0.609375},{"u":0,"v":0.640625},{"u":0,"v":0.671875},{"u":0,"v":0.703125},{"u":0,"v":0.734375},{"u":0,"v":0.765625},{"u":0,"v":0.796875},{"u":0,"v":0.828125},{"u":0,"v":0.859375},{"u":0,"v":0.890625},{"u":0,"v":0.921875},{"u":0,"v":0.953125},{"u":0,"v":0.984375},{"u":0,"v":1.015625},{"u":0,"v":1.046875},{"u":0,"v":1.078125},{"u":0,"v":1.109375},{"u":0,"v":1.140625},{"u":0,"v":1.171875},{"u":0,"v":1.203125},{"u":0,"v":1.234375},{"u":0,"v":1.265625},{"u":0,"v":1.296875},{"u":0,"v":1.328125},{"u":0,"v":1.359375},{"u":0,"v":1.390625},{"u":0,"v":1.421875},{"u":0,"v":1.453125},{"u":0,"v":1.484375},{"u":0,"v":1.515625},{"u":0,"v":1.546875},{"u":0,"v":1.578125},{"u":0,"v":1.609375},{"u":0,"v":1.640625},{"u":0,"v":1.671875},{"u":0,"v":1.703125},{"u":0,"v":1.734375},{"u":0,"v":1.765625},{"u":0,"v":1.796875},{"u":0,"v":1.828125},{"u":0,"v":1.859375},{"u":0,"v":1.890625},{"u":0,"v":1.921875},{"u":0,"v":1.953125},{"u":0,"v":1.984375}]},
"hconcat":[
{"width":1357,"height":1172,"data":{"name":"cells"},"layer":[
{"mark":{"type":"rect","strokeWidth":1},"encoding":{
"x":{"field":"x","type":"quantitative","bin":{"step":1,"extent":[0,30]},"scale":{"domain":[0,30],"nice":false},"title":null,"axis":{"orient":"bottom","values":[0,5,10,15,20,25,30],"grid":false,"tickSize":-13,"tickColor":"black","tickWidth":1.5,"domainColor":"black","domainWidth":2,"labelFont":"Liberation Serif","labelFontSize":72,"labelColor":"black","labelPadding":23,"labelFlush":false,"labelOverlap":false,"format":"d","zindex":1}},
"y":{"field":"y","type":"quantitative","bin":{"step":1,"extent":[0,30]},"scale":{"domain":[0,30],"nice":false},"title":null,"axis":{"orient":"left","values":[0,5,10,15,20,25,30],"grid":false,"tickSize":-13,"tickColor":"black","tickWidth":1.5,"domainColor":"black","domainWidth":2,"labelFont":"Liberation Serif","labelFontSize":72,"labelColor":"black","labelPadding":22,"labelFlush":false,"labelOverlap":false,"format":"d","zindex":1}},
"color":{"field":"v","type":"quantitative","legend":null,"scale":{"type":"quantize","domain":[0,2],"nice":false,"zero":false,"range":["#352a87","#363093","#3637a0","#353dad","#3243ba","#2c4ac7","#2053d4","#0f5cdd","#0363e1","#0268e1","#046de0","#0871de","#0d75dc","#1079da","#127dd8","#1481d6","#1485d4","#1389d3","#108ed2","#0c93d2","#0998d1","#079ccf","#06a0cd","#06a4ca","#06a7c6","#07a9c2","#0aacbe","#0faeb9","#15b1b4","#1db3af","#25b5a9","#2eb7a4","#38b99e","#42bb98","#4dbc92","#59bd8c","#65be86","#71bf80","#7cbf7b","#87bf77","#92bf73","#9cbf6f","#a5be6b","#aebe67","#b7bd64","#c0bc60","#c8bc5d","#d1bb59","#d9ba56","#e1b952","#e9b94e","#f1b94a","#f8bb44","#fdbe3d","#ffc337","#fec832","#fcce2e","#fad32a","#f7d826","#f5de21","#f5e41d","#f5eb18","#f6f313","#f9fb0e"]}},
"stroke":{"field":"v","type":"quantitative","legend":null,"scale":{"type":"quantize","domain":[0,2],"nice":false,"zero":false,"range":["#352a87","#363093","#3637a0","#353dad","#3243ba","#2c4ac7","#2053d4","#0f5cdd","#0363e1","#0268e1","#046de0","#0871de","#0d75dc","#1079da","#127dd8","#1481d6","#1485d4","#1389d3","#108ed2","#0c93d2","#0998d1","#079ccf","#06a0cd","#06a4ca","#06a7c6","#07a9c2","#0aacbe","#0faeb9","#15b1b4","#1db3af","#25b5a9","#2eb7a4","#38b99e","#42bb98","#4dbc92","#59bd8c","#65be86","#71bf80","#7cbf7b","#87bf77","#92bf73","#9cbf6f","#a5be6b","#aebe67","#b7bd64","#c0bc60","#c8bc5d","#d1bb59","#d9ba56","#e1b952","#e9b94e","#f1b94a","#f8bb44","#fdbe3d","#ffc337","#fec832","#fcce2e","#fad32a","#f7d826","#f5de21","#f5e41d","#f5eb18","#f6f313","#f9fb0e"]}}
}},
{"mark":{"type":"rect","opacity":0},"encoding":{
"x":{"field":"x","type":"quantitative","bin":{"step":1,"extent":[0,30]},"scale":{"domain":[0,30],"nice":false},"title":null,"axis":{"orient":"top","values":[0,5,10,15,20,25,30],"grid":false,"labels":false,"tickSize":-13,"tickColor":"black","tickWidth":1.5,"domainColor":"#555555","domainWidth":1.5,"zindex":1}},
"y":{"field":"y","type":"quantitative","bin":{"step":1,"extent":[0,30]},"scale":{"domain":[0,30],"nice":false},"title":null,"axis":{"orient":"right","values":[0,5,10,15,20,25,30],"grid":false,"labels":false,"tickSize":-13,"tickColor":"black","tickWidth":1.5,"domainColor":"#555555","domainWidth":1.5,"zindex":1}}
}}
],"resolve":{"axis":{"x":"independent","y":"independent"}}},
{"width":44,"height":1172,"data":{"name":"levels"},"layer":[
{"mark":{"type":"rect","strokeWidth":1},"encoding":{
"x":{"field":"u","type":"quantitative","bin":{"step":1,"extent":[0,1]},"scale":{"domain":[0,1],"nice":false},"axis":null},
"y":{"field":"v","type":"quantitative","bin":{"step":0.03125,"extent":[0,2]},"scale":{"domain":[0,2],"nice":false},"title":null,"axis":{"orient":"right","values":[0,0.2,0.4,0.6,0.8,1,1.2,1.4,1.6,1.8,2],"format":"~g","grid":false,"tickSize":-13,"tickColor":"black","tickWidth":1.5,"domainColor":"#333333","domainWidth":1.5,"labelFont":"Liberation Serif","labelFontSize":72,"labelColor":"black","labelPadding":16,"labelFlush":false,"labelOverlap":false,"zindex":1}},
"color":{"field":"v","type":"quantitative","legend":null,"scale":{"type":"quantize","domain":[0,2],"nice":false,"zero":false,"range":["#352a87","#363093","#3637a0","#353dad","#3243ba","#2c4ac7","#2053d4","#0f5cdd","#0363e1","#0268e1","#046de0","#0871de","#0d75dc","#1079da","#127dd8","#1481d6","#1485d4","#1389d3","#108ed2","#0c93d2","#0998d1","#079ccf","#06a0cd","#06a4ca","#06a7c6","#07a9c2","#0aacbe","#0faeb9","#15b1b4","#1db3af","#25b5a9","#2eb7a4","#38b99e","#42bb98","#4dbc92","#59bd8c","#65be86","#71bf80","#7cbf7b","#87bf77","#92bf73","#9cbf6f","#a5be6b","#aebe67","#b7bd64","#c0bc60","#c8bc5d","#d1bb59","#d9ba56","#e1b952","#e9b94e","#f1b94a","#f8bb44","#fdbe3d","#ffc337","#fec832","#fcce2e","#fad32a","#f7d826","#f5de21","#f5e41d","#f5eb18","#f6f313","#f9fb0e"]}},
"stroke":{"field":"v","type":"quantitative","legend":null,"scale":{"type":"quantize","domain":[0,2],"nice":false,"zero":false,"range":["#352a87","#363093","#3637a0","#353dad","#3243ba","#2c4ac7","#2053d4","#0f5cdd","#0363e1","#0268e1","#046de0","#0871de","#0d75dc","#1079da","#127dd8","#1481d6","#1485d4","#1389d3","#108ed2","#0c93d2","#0998d1","#079ccf","#06a0cd","#06a4ca","#06a7c6","#07a9c2","#0aacbe","#0faeb9","#15b1b4","#1db3af","#25b5a9","#2eb7a4","#38b99e","#42bb98","#4dbc92","#59bd8c","#65be86","#71bf80","#7cbf7b","#87bf77","#92bf73","#9cbf6f","#a5be6b","#aebe67","#b7bd64","#c0bc60","#c8bc5d","#d1bb59","#d9ba56","#e1b952","#e9b94e","#f1b94a","#f8bb44","#fdbe3d","#ffc337","#fec832","#fcce2e","#fad32a","#f7d826","#f5de21","#f5e41d","#f5eb18","#f6f313","#f9fb0e"]}}
}},
{"mark":{"type":"rect","opacity":0},"encoding":{
"x":{"field":"u","type":"quantitative","bin":{"step":1,"extent":[0,1]},"scale":{"domain":[0,1],"nice":false},"axis":null},
"y":{"field":"v","type":"quantitative","bin":{"step":0.03125,"extent":[0,2]},"scale":{"domain":[0,2],"nice":false},"title":null,"axis":{"orient":"left","values":[0,0.2,0.4,0.6,0.8,1,1.2,1.4,1.6,1.8,2],"labels":false,"grid":false,"tickSize":-13,"tickColor":"black","tickWidth":1.5,"domainColor":"#333333","domainWidth":1.5,"zindex":1}}
}}
],"resolve":{"axis":{"y":"independent"}}}
],"spacing":-2}
